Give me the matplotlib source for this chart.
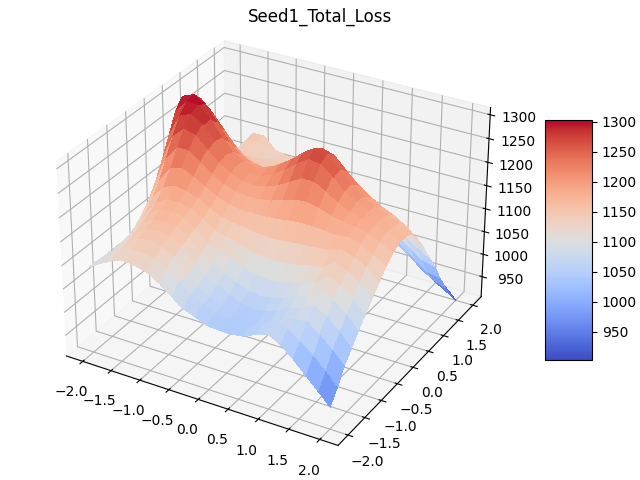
import numpy as np
import matplotlib
matplotlib.use('Agg')
import matplotlib.pyplot as plt
from matplotlib import cm
from matplotlib.ticker import MultipleLocator

# grid axes
x_vals = [-2.0, -1.8, -1.6, -1.4, -1.2, -1.0, -0.8, -0.6, -0.4, -0.2, 0.0,
          0.2, 0.4, 0.6, 0.8, 1.0, 1.2, 1.4, 1.6, 1.8, 2.0]
y_vals = x_vals

# loss, one row per y value
loss = [
    [1090, 1105, 1118, 1125, 1122, 1115, 1100, 1080, 1062, 1052, 1042, 1040, 1040, 1044, 1056, 1064, 1050, 1028, 1003, 978, 952],
    [1090, 1108, 1125, 1135, 1135, 1128, 1115, 1095, 1078, 1065, 1055, 1050, 1048, 1052, 1062, 1075, 1068, 1050, 1030, 1005, 978],
    [1088, 1110, 1130, 1145, 1148, 1142, 1130, 1097, 1080, 1067, 1055, 1047, 1043, 1045, 1053, 1067, 1075, 1078, 1058, 1035, 1010],
    [1086, 1112, 1136, 1152, 1156, 1152, 1142, 1108, 1092, 1080, 1066, 1056, 1052, 1055, 1064, 1078, 1085, 1098, 1082, 1060, 1032],
    [1086, 1116, 1145, 1160, 1164, 1160, 1145, 1117, 1105, 1091, 1079, 1069, 1065, 1069, 1077, 1089, 1095, 1116, 1102, 1082, 1055],
    [1090, 1125, 1155, 1168, 1170, 1166, 1150, 1127, 1117, 1107, 1097, 1090, 1087, 1089, 1095, 1105, 1111, 1132, 1120, 1102, 1075],
    [1098, 1135, 1165, 1178, 1178, 1172, 1158, 1140, 1134, 1126, 1120, 1115, 1114, 1116, 1120, 1126, 1130, 1148, 1136, 1120, 1095],
    [1112, 1155, 1185, 1195, 1190, 1182, 1168, 1156, 1152, 1148, 1144, 1142, 1143, 1146, 1148, 1150, 1152, 1162, 1152, 1138, 1115],
    [1130, 1180, 1212, 1220, 1208, 1194, 1180, 1171, 1167, 1167, 1167, 1169, 1173, 1175, 1175, 1173, 1171, 1174, 1166, 1152, 1135],
    [1160, 1215, 1245, 1245, 1226, 1208, 1194, 1186, 1182, 1184, 1188, 1196, 1204, 1206, 1200, 1192, 1186, 1182, 1176, 1165, 1150],
    [1195, 1250, 1272, 1265, 1242, 1220, 1206, 1196, 1194, 1198, 1208, 1222, 1236, 1236, 1222, 1206, 1194, 1188, 1180, 1172, 1160],
    [1235, 1282, 1292, 1276, 1250, 1226, 1212, 1202, 1202, 1212, 1228, 1248, 1264, 1260, 1240, 1216, 1202, 1190, 1182, 1172, 1160],
    [1275, 1300, 1300, 1278, 1246, 1220, 1208, 1200, 1206, 1220, 1238, 1260, 1276, 1270, 1246, 1220, 1202, 1188, 1178, 1168, 1155],
    [1295, 1305, 1290, 1260, 1226, 1204, 1194, 1190, 1200, 1216, 1234, 1254, 1264, 1256, 1232, 1208, 1190, 1176, 1165, 1150, 1130],
    [1285, 1285, 1262, 1232, 1202, 1182, 1174, 1174, 1186, 1200, 1214, 1228, 1232, 1224, 1204, 1184, 1168, 1152, 1136, 1118, 1100],
    [1250, 1245, 1225, 1198, 1174, 1160, 1156, 1156, 1166, 1178, 1188, 1194, 1194, 1186, 1170, 1152, 1134, 1116, 1098, 1080, 1065],
    [1205, 1200, 1185, 1166, 1152, 1148, 1146, 1142, 1146, 1150, 1154, 1156, 1154, 1146, 1132, 1114, 1096, 1076, 1058, 1040, 1033],
    [1160, 1158, 1150, 1142, 1142, 1146, 1146, 1136, 1130, 1128, 1126, 1124, 1118, 1108, 1094, 1076, 1058, 1038, 1018, 1000, 995],
    [1115, 1125, 1135, 1130, 1128, 1135, 1140, 1132, 1118, 1110, 1104, 1096, 1086, 1074, 1060, 1042, 1024, 1006, 985, 970, 960],
    [1090, 1115, 1145, 1150, 1135, 1134, 1136, 1124, 1106, 1094, 1084, 1072, 1060, 1046, 1030, 1012, 1000, 985, 965, 945, 930],
    [1070, 1120, 1150, 1150, 1125, 1120, 1120, 1110, 1094, 1078, 1064, 1050, 1036, 1020, 1004, 1000, 990, 975, 955, 930, 905],
]

X, Y = np.meshgrid(x_vals, y_vals)
Z = np.array(loss)

fig = plt.figure(figsize=(6.4, 4.8), dpi=100)
ax = fig.add_axes([52 / 640, 22 / 480, 440 / 640, 440 / 480], projection='3d')
surf = ax.plot_surface(X, Y, Z, rstride=1, cstride=1, cmap=cm.coolwarm,
                       vmin=903, vmax=1303, linewidth=0, antialiased=False)
ax.set_zlim(905, 1315)
ax.set_box_aspect((4, 4, 2.85), zoom=1.085)
ax.xaxis.set_major_locator(MultipleLocator(0.5))
ax.yaxis.set_major_locator(MultipleLocator(0.5))

cax = fig.add_axes([545 / 640, 120 / 480, 47 / 640, 240 / 480])
cbar = fig.colorbar(surf, cax=cax)
cbar.set_ticks([950, 1000, 1050, 1100, 1150, 1200, 1250, 1300])
ax.set_title('Seed1_Total_Loss', x=0.61, y=1.057)

plt.savefig('out.png')
